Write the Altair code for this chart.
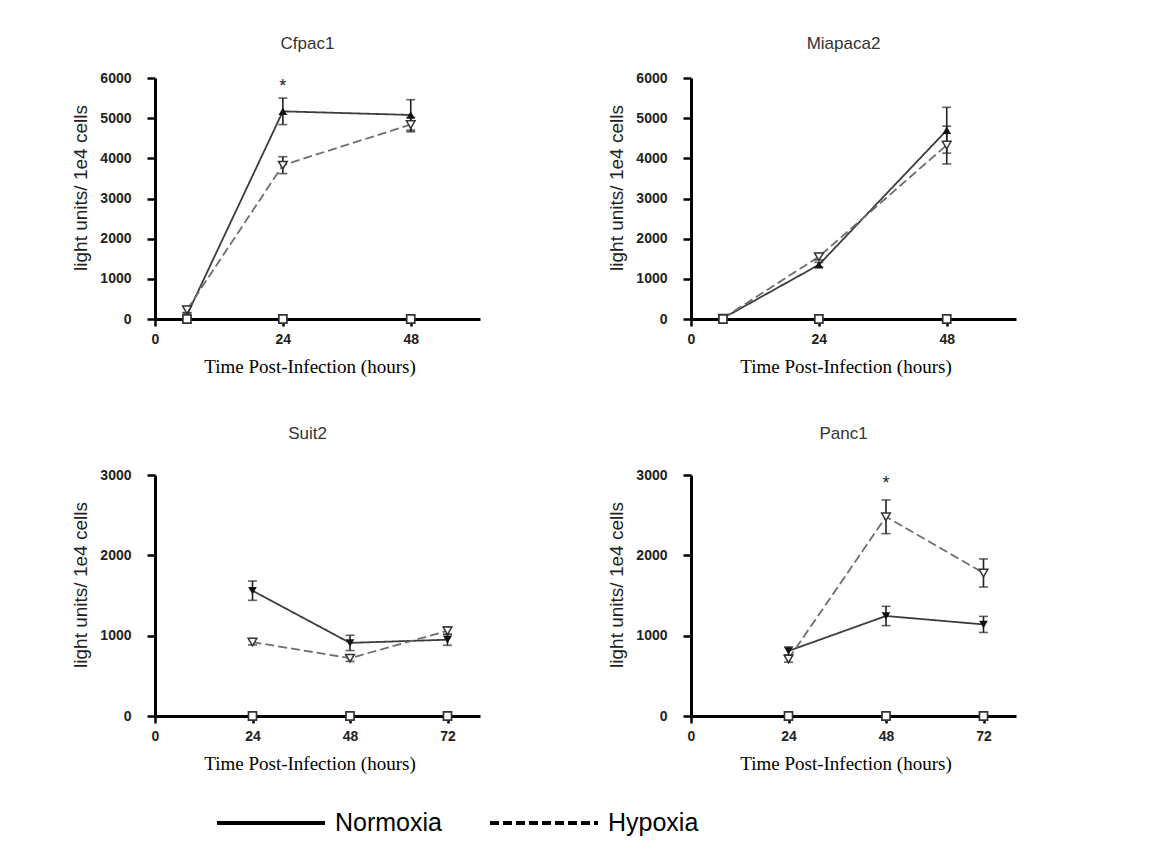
import altair as alt
import pandas as pd

# ---------------- data ----------------
times_top = [6, 24, 48]
times_bottom = [24, 48, 72]

cfpac1_norm = [100, 5170, 5080]
cfpac1_norm_err = [60, 330, 380]
cfpac1_hyp = [230, 3830, 4840]
cfpac1_hyp_err = [80, 210, 180]

miapaca2_norm = [20, 1350, 4700]
miapaca2_norm_err = [10, 60, 570]
miapaca2_hyp = [20, 1550, 4330]
miapaca2_hyp_err = [10, 80, 470]

suit2_norm = [1560, 910, 950]
suit2_norm_err = [120, 95, 70]
suit2_hyp = [920, 720, 1060]
suit2_hyp_err = [35, 40, 50]

panc1_norm = [810, 1245, 1140]
panc1_norm_err = [50, 120, 100]
panc1_hyp = [710, 2480, 1780]
panc1_hyp_err = [40, 210, 175]

control_value = 0
conditions = ["Normoxia", "Hypoxia"]

# significance stars: (time, y-position in data units)
cfpac1_star = [(24, 5780)]
miapaca2_star = []
suit2_star = []
panc1_star = [(48, 2888)]

W = 325
H = 241

legend_def = alt.Legend(
    title=None, orient="none", direction="horizontal",
    legendX=60, legendY=689, padding=0,
    symbolType="stroke", symbolSize=108 * 108, symbolStrokeWidth=4,
    symbolStrokeColor="black", labelFont="Liberation Sans",
    labelFontSize=25, labelColor="black", labelOffset=8,
    columnPadding=40, labelLimit=400,
)


def make_panel(title, times, norm, norm_err, hyp, hyp_err, stars,
               ymax, xmax, xticks, norm_shape, title_offset):
    rows = []
    for cond, vals, errs in (("Normoxia", norm, norm_err), ("Hypoxia", hyp, hyp_err)):
        for t, v, e in zip(times, vals, errs):
            rows.append({"condition": cond, "time": t, "value": v,
                         "lo": v - e, "hi": v + e})
    df = pd.DataFrame(rows)
    ctrl = pd.DataFrame({"time": times, "value": [control_value] * len(times)})

    xscale = alt.Scale(domain=[0, xmax], nice=False, zero=True)
    yscale = alt.Scale(domain=[0, ymax], nice=False)

    xaxis = alt.Axis(
        values=xticks, format="d", title="Time Post-Infection (hours)",
        grid=False, domainColor="black", domainWidth=3, tickColor="black",
        tickWidth=2.5, tickSize=7, labelFlush=False, labelPadding=6,
        labelFont="Liberation Sans", labelFontWeight="bold", labelFontSize=14,
        labelColor="#222", titleFont="Liberation Serif", titleFontSize=19,
        titleFontWeight="normal", titleColor="black", titlePadding=11,
        titleX=W / 2 - 8,
    )
    yaxis = alt.Axis(
        values=list(range(0, ymax + 1, 1000)), format="d",
        title="light units/ 1e4 cells", grid=False, domainColor="black",
        domainWidth=3, tickColor="black", tickWidth=2.5, tickSize=8,
        labelFlush=False, labelPadding=16, labelFont="Liberation Sans",
        labelFontWeight="bold", labelFontSize=14, labelColor="#222",
        titleFont="Liberation Sans", titleFontSize=19, titleFontWeight="normal",
        titleColor="#222", titlePadding=9, titleY=H / 2 - 11,
    )

    def X():
        return alt.X("time:Q", scale=xscale, axis=xaxis)

    def Y(field):
        return alt.Y(field + ":Q", scale=yscale, axis=yaxis)

    base = alt.Chart(df)
    lines = base.mark_line(strokeWidth=1.8).encode(
        x=X(), y=Y("value"),
        strokeDash=alt.StrokeDash(
            "condition:N",
            scale=alt.Scale(domain=conditions, range=[[1, 0], [9, 4]]),
            legend=legend_def,
        ),
        color=alt.condition(alt.datum.condition == "Hypoxia",
                            alt.value("#6e6e6e"), alt.value("#3c3c3c")),
    )
    rules = base.mark_rule(strokeWidth=1.6, color="#222").encode(
        x=X(), y=Y("lo"), y2="hi:Q")
    cap_lo = base.mark_tick(orient="horizontal", size=9, thickness=1.6,
                            color="#222").encode(x=X(), y=Y("lo"))
    cap_hi = base.mark_tick(orient="horizontal", size=9, thickness=1.6,
                            color="#222").encode(x=X(), y=Y("hi"))
    norm_pts = alt.Chart(df[df.condition == "Normoxia"]).mark_point(
        shape=norm_shape, filled=True, size=75, color="#111", opacity=1).encode(
        x=X(), y=Y("value"))
    hyp_pts = alt.Chart(df[df.condition == "Hypoxia"]).mark_point(
        shape="triangle-down", filled=True, size=75, fill="white",
        stroke="#333", strokeWidth=1.5, opacity=1).encode(
        x=X(), y=Y("value"))
    ctrl_pts = alt.Chart(ctrl).mark_point(
        shape="square", filled=True, size=65, fill="white", stroke="#333",
        strokeWidth=1.7, opacity=1).encode(x=X(), y=Y("value"))

    layers = [lines, rules, cap_lo, cap_hi, norm_pts, hyp_pts, ctrl_pts]
    if stars:
        sdf = pd.DataFrame({"time": [s[0] for s in stars],
                            "value": [s[1] for s in stars], "t": ["*"] * len(stars)})
        layers.append(alt.Chart(sdf).mark_text(
            fontSize=18, font="Liberation Sans", color="#222",
            baseline="middle").encode(x=X(), y=Y("value"), text="t:N"))

    return alt.layer(*layers).properties(
        width=W, height=H,
        title=alt.TitleParams(title, font="Liberation Sans", fontSize=17,
                              fontWeight="normal", color="#333", frame="group",
                              anchor="middle", offset=title_offset, dx=-10),
    )


p1 = make_panel("Cfpac1", times_top, cfpac1_norm, cfpac1_norm_err, cfpac1_hyp,
                cfpac1_hyp_err, cfpac1_star, 6000, 61, [0, 24, 48],
                "triangle-up", 18)
p2 = make_panel("Miapaca2", times_top, miapaca2_norm, miapaca2_norm_err,
                miapaca2_hyp, miapaca2_hyp_err, miapaca2_star, 6000, 61,
                [0, 24, 48], "triangle-up", 18)
p3 = make_panel("Suit2", times_bottom, suit2_norm, suit2_norm_err, suit2_hyp,
                suit2_hyp_err, suit2_star, 3000, 80, [0, 24, 48, 72],
                "triangle-down", 25)
p4 = make_panel("Panc1", times_bottom, panc1_norm, panc1_norm_err, panc1_hyp,
                panc1_hyp_err, panc1_star, 3000, 80, [0, 24, 48, 72],
                "triangle-down", 25)

chart = alt.concat(
    p1, p2, p3, p4, columns=2, bounds="flush",
    spacing=alt.RowColnumber(row=156, column=211),
).properties(
    autosize=alt.AutoSizeParams(type="none"),
    padding={"left": 155, "top": 78, "right": 996, "bottom": 774},
    background="white",
).configure_view(stroke=None)

chart.save("out.html", embed_options={"renderer": "svg", "actions": False})
